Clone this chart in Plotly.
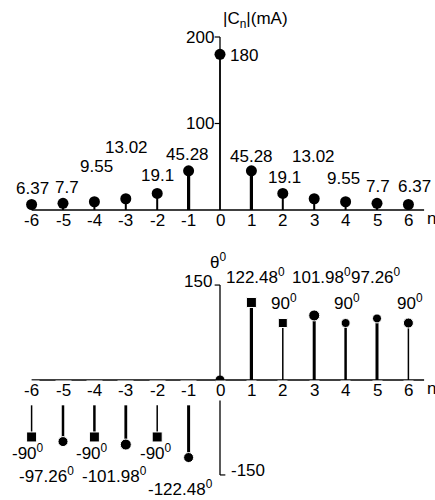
import plotly.graph_objects as go

# ---------------- data ----------------
n = [-6, -5, -4, -3, -2, -1, 0, 1, 2, 3, 4, 5, 6]
amp = [6.37, 7.7, 9.55, 13.02, 19.1, 45.28, 180, 45.28, 19.1, 13.02, 9.55, 7.7, 6.37]
amp_labels = ["6.37", "7.7", "9.55", "13.02", "19.1", "45.28", "180",
              "45.28", "19.1", "13.02", "9.55", "7.7", "6.37"]
phase = [-90, -97.26, -90, -101.98, -90, -122.48, 0, 122.48, 90, 101.98, 90, 97.26, 90]
phase_labels = ["-90<sup>0</sup>", "-97.26<sup>0</sup>", "-90<sup>0</sup>", "-101.98<sup>0</sup>",
                "-90<sup>0</sup>", "-122.48<sup>0</sup>", "", "122.48<sup>0</sup>",
                "90<sup>0</sup>", "101.98<sup>0</sup>", "90<sup>0</sup>", "97.26<sup>0</sup>",
                "90<sup>0</sup>"]
x_tick_labels = [str(v) for v in n]
amp_ticks = [200, 100]
phase_ticks = [150, -150]
amp_title = "|C<sub>n</sub>|(mA)"
phase_title = "θ<sup>0</sup>"
x_title = "n"

# ---------------- styles ----------------
FONT = "Liberation Sans, Arial, sans-serif"
FS = 17
BLACK = "#000000"
amp_offsets = [(1, 15.5), (4, 16), (2, 35), (1, 51), (0, 17.5), (-1, 16), (8, -1),
               (0, 14.3), (2, 15.5), (-1, 42), (-2, 23), (0.5, 17), (6, 17.5)]
amp_widths = [2, 2, 2, 2, 2, 3.2, 1.5, 3.2, 2, 2, 2, 2, 2]
amp_symbols = ["circle"] * 13
phase_offsets = [(-3.6, -15), (-17, -33), (-2, -15.5), (-11, -30), (-1, -15), (-8.6, -30.5), (0, 0),
                 (3.6, 26.5), (0.7, 21), (6.8, 39.5), (0.9, 21), (-1.5, 42.5), (1.6, 21)]
phase_widths = [1.5, 2.5, 2.5, 2.8, 1.5, 3, 0, 3.2, 1.5, 3, 2.5, 3, 1.5]
phase_symbols = ["square", "circle", "square", "circle", "square", "circle", "circle",
                 "square", "square", "circle", "circle", "circle", "circle"]
phase_sizes = [10, 10, 10, 11, 10, 10, 10, 10, 9, 11, 9, 9, 10]
neg_stem_start = -40

fig = go.Figure()

# top chart stems + markers
for i, (xv, yv) in enumerate(zip(n, amp)):
    fig.add_trace(go.Scatter(x=[xv, xv], y=[0, yv], mode="lines",
                             line=dict(color=BLACK, width=amp_widths[i]),
                             xaxis="x", yaxis="y", showlegend=False, hoverinfo="skip"))
fig.add_trace(go.Scatter(x=n, y=amp, mode="markers",
                         marker=dict(color=BLACK, size=11, symbol=amp_symbols, opacity=1),
                         xaxis="x", yaxis="y", showlegend=False, cliponaxis=False))

# bottom chart stems + markers
for i, (xv, yv) in enumerate(zip(n, phase)):
    if phase_widths[i] == 0:
        continue
    base = 0 if yv > 0 else neg_stem_start
    fig.add_trace(go.Scatter(x=[xv, xv], y=[base, yv], mode="lines",
                             line=dict(color=BLACK, width=phase_widths[i]),
                             xaxis="x2", yaxis="y2", showlegend=False, hoverinfo="skip"))
fig.add_trace(go.Scatter(x=n, y=phase, mode="markers",
                         marker=dict(color=BLACK, size=phase_sizes, symbol=phase_symbols, opacity=1),
                         xaxis="x2", yaxis="y2", showlegend=False, cliponaxis=False))

# axis lines and ticks (shapes in data coordinates)
shapes = []
for xr, yr, ymax, ymin in [("x", "y", max(amp_ticks), 0), ("x2", "y2", max(phase_ticks), min(phase_ticks))]:
    shapes.append(dict(type="line", xref=xr, yref=yr, x0=n[0], x1=n[-1] + 0.5, y0=0, y1=0,
                       line=dict(color=BLACK, width=1.6)))
    shapes.append(dict(type="line", xref=xr, yref=yr, x0=0, x1=0, y0=ymin, y1=ymax,
                       line=dict(color=BLACK, width=1.3)))
for t in amp_ticks:
    shapes.append(dict(type="line", xref="x", yref="y", x0=-0.17, x1=0, y0=t, y1=t,
                       line=dict(color=BLACK, width=1.2)))
shapes.append(dict(type="line", xref="x2", yref="y2", x0=-0.17, x1=0, y0=phase_ticks[0], y1=phase_ticks[0],
                   line=dict(color=BLACK, width=1.2)))
shapes.append(dict(type="line", xref="x2", yref="y2", x0=0, x1=0.17, y0=phase_ticks[1], y1=phase_ticks[1],
                   line=dict(color=BLACK, width=1.2)))

ann = []
font = dict(family=FONT, size=FS, color=BLACK)
# value labels
for i, (xv, yv) in enumerate(zip(n, amp)):
    dx, dy = amp_offsets[i]
    ann.append(dict(x=xv, y=yv, xref="x", yref="y", text=amp_labels[i], showarrow=False,
                    xanchor="left" if xv == 0 else "center", yanchor="middle",
                    xshift=dx, yshift=dy, font=font))
for i, (xv, yv) in enumerate(zip(n, phase)):
    if not phase_labels[i]:
        continue
    dx, dy = phase_offsets[i]
    ann.append(dict(x=xv, y=yv, xref="x2", yref="y2", text=phase_labels[i], showarrow=False,
                    xanchor="center", yanchor="middle", xshift=dx, yshift=dy, font=font))
# x tick labels
for xv, lab in zip(n, x_tick_labels):
    ann.append(dict(x=xv, y=0, xref="x", yref="y", text=lab, showarrow=False,
                    xanchor="center", yanchor="middle", yshift=-10.5, font=font))
    ann.append(dict(x=xv, y=0, xref="x2", yref="y2", text=lab, showarrow=False,
                    xanchor="center", yanchor="middle", yshift=-10.5, font=font,
                    bgcolor="white", borderpad=0))
# y tick labels
for t in amp_ticks:
    ann.append(dict(x=0, y=t, xref="x", yref="y", text=str(t), showarrow=False,
                    xanchor="right", yanchor="middle", xshift=-4, font=font))
ann.append(dict(x=0, y=phase_ticks[0], xref="x2", yref="y2", text=str(phase_ticks[0]), showarrow=False,
                xanchor="right", yanchor="middle", xshift=-6, yshift=4, font=font))
ann.append(dict(x=0, y=phase_ticks[1], xref="x2", yref="y2", text=str(phase_ticks[1]), showarrow=False,
                xanchor="left", yanchor="middle", xshift=9, yshift=4, font=font))
# axis titles
ann.append(dict(x=0, y=max(amp_ticks), xref="x", yref="y", text=amp_title, showarrow=False,
                xanchor="left", yanchor="middle", xshift=1, yshift=17, font=font))
ann.append(dict(x=0, y=max(phase_ticks), xref="x2", yref="y2", text=phase_title, showarrow=False,
                xanchor="center", yanchor="middle", xshift=-2, yshift=24, font=font))
for xr, yr in [("x", "y"), ("x2", "y2")]:
    ann.append(dict(x=n[-1] + 0.5, y=0, xref=xr, yref=yr, text=x_title, showarrow=False,
                    xanchor="left", yanchor="middle", xshift=1, yshift=-8.5, font=font))

# pixel mapping: n=0 at x=220px, 31.4 px per unit
x_range = [-220 / 31.4, (435 - 220) / 31.4]
axis_common = dict(visible=False, showgrid=False, zeroline=False, fixedrange=True)
fig.update_layout(
    width=435, height=500, autosize=False,
    margin=dict(l=0, r=0, t=0, b=0, pad=0),
    paper_bgcolor="white", plot_bgcolor="white",
    shapes=shapes, annotations=ann,
    xaxis=dict(domain=[0, 1], range=x_range, anchor="y", **axis_common),
    yaxis=dict(domain=[0.51, 1], range=[-(245 - 210) / 0.865, 210 / 0.865], anchor="x", **axis_common),
    xaxis2=dict(domain=[0, 1], range=x_range, anchor="y2", **axis_common),
    yaxis2=dict(domain=[0, 0.51], range=[-(500 - 380) / 0.633, (380 - 245) / 0.633], anchor="x2", **axis_common),
    font=font,
)

fig.write_html("out.html", config={"displayModeBar": False},
               post_script="document.body.style.margin='0';document.body.style.overflow='hidden';")
